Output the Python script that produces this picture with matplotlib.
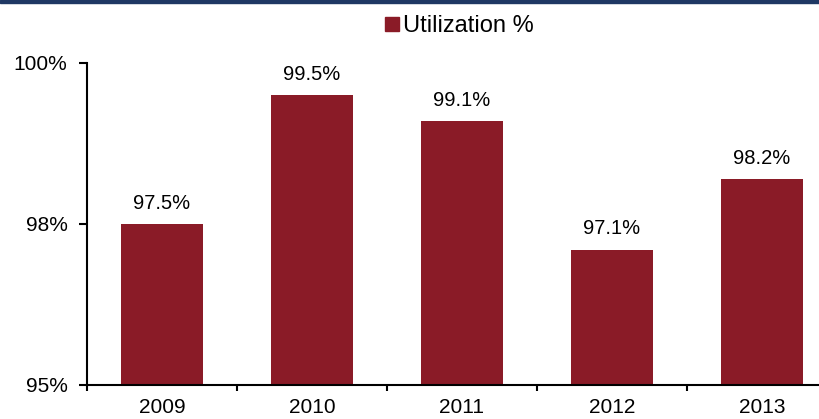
import matplotlib
matplotlib.use("Agg")
import matplotlib.pyplot as plt
from matplotlib.patches import Rectangle
import numpy as np

plt.rcParams["font.family"] = ["Liberation Sans", "DejaVu Sans"]

years = ["2009", "2010", "2011", "2012", "2013"]
utilization = [97.5, 99.5, 99.1, 97.1, 98.2]
y_ticks = [95, 97.5, 100]

BAR_COLOR = "#8A1B27"
NAVY = "#1F3864"

fig = plt.figure(figsize=(8.2, 4.19), dpi=100)
W, H = 820, 419
ax = fig.add_axes([87 / W, 34 / H, 750 / W, 322 / H])

x = np.arange(len(years))
ax.bar(x, utilization, width=0.55, color=BAR_COLOR, zorder=2)

ax.set_ylim(95, 100)
ax.set_xlim(-0.5, len(years) - 0.5)
ax.set_yticks(y_ticks)
ax.set_yticklabels([f"{v:.0f}%" for v in y_ticks], fontsize=15)
ax.set_xticks(x)
ax.set_xticklabels(years, fontsize=15)
ax.tick_params(axis="x", which="major", length=0, pad=9)
ax.set_xticks(np.arange(len(years) + 1) - 0.5, minor=True)
ax.tick_params(axis="x", which="minor", length=4, width=1.5, direction="out")
ax.tick_params(axis="y", length=6, width=1.5, direction="out", pad=8)

for side in ("top", "right"):
    ax.spines[side].set_visible(False)
for side in ("left", "bottom"):
    ax.spines[side].set_linewidth(1.5)

# value labels above the bars
for xi, v in zip(x, utilization):
    ax.annotate(f"{v:.1f}%", (xi, v), textcoords="offset points",
                xytext=(0, 11), ha="center", va="baseline", fontsize=14.5)

# legend
fig.patches.append(Rectangle((385 / W, 1 - 31 / H), 14 / W, 14 / H,
                             transform=fig.transFigure, color=BAR_COLOR))
fig.text(403 / W, 1 - 32 / H, "Utilization %", fontsize=17,
         va="baseline", ha="left")

# header rule
fig.patches.append(Rectangle((0, 1 - 3 / H), 1, 3 / H,
                             transform=fig.transFigure, color=NAVY))

fig.savefig("out.png", dpi=100)
